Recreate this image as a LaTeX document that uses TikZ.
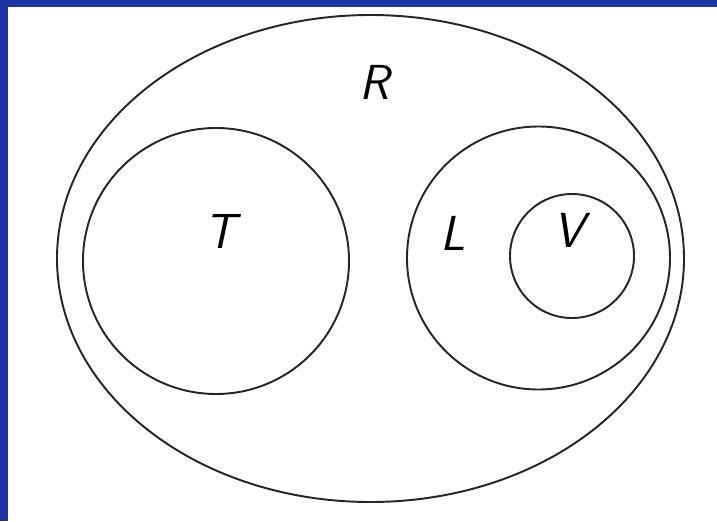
\documentclass[tikz,border=0pt]{standalone}
\definecolor{frameblue}{RGB}{30,52,165}
\begin{document}
\begin{tikzpicture}[
  x=0.02cm, y=-0.02cm,
  setline/.style={line width=1.1pt, draw=black!85},
  setlabel/.style={font=\fontsize{28}{32}\selectfont\sffamily\itshape, inner sep=0pt}
]
  \useasboundingbox (0,0) rectangle (717,521);

  % --- MARCO ---
  \fill[frameblue] (0,0) rectangle (717,7);
  \fill[frameblue] (0,0) rectangle (8,521);

  % --- CONJUNTOS ---
  \draw[setline] (370.5,258.5) ellipse [x radius=313.5, y radius=243.5];
  \draw[setline] (216,261) circle [radius=133];
  \draw[setline] (538.5,258) circle [radius=131.5];
  \draw[setline] (572,256) circle [radius=62];

  % --- ETIQUETAS ---
  \node[setlabel] (labR) at (374,82) {R};
  \node[setlabel] (labT) at (220,231) {T};
  \node[setlabel] (labL) at (453,233) {L};
  \node[setlabel] (labV) at (569,230) {V};
\end{tikzpicture}
\end{document}
